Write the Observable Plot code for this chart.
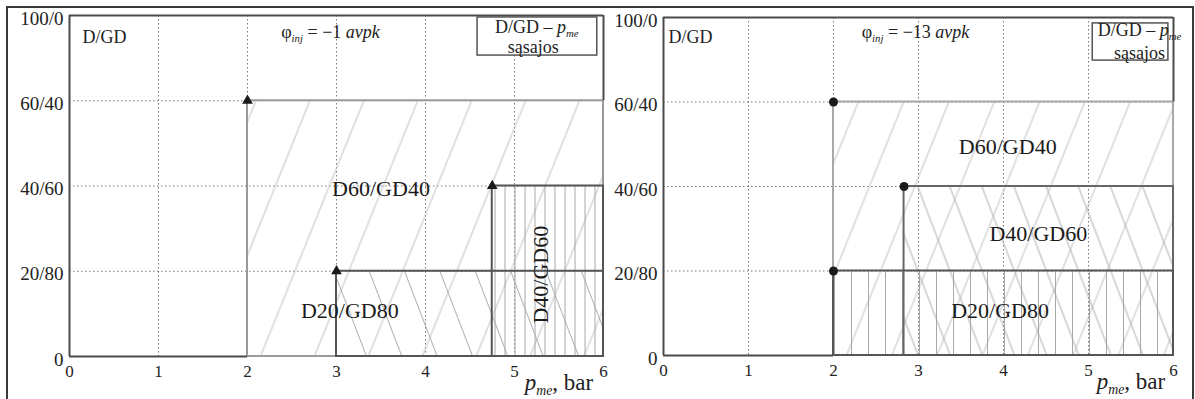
<!DOCTYPE html>
<html><head><meta charset="utf-8">
<script src="https://cdn.jsdelivr.net/npm/d3@7"></script>
<script src="https://cdn.jsdelivr.net/npm/@observablehq/plot@0.6"></script>
<style>
body{margin:0;background:#fff;}
#wrap{position:relative;width:1195px;height:399px;display:flex;overflow:hidden;}
#wrap svg{display:block;flex:none;overflow:visible;}
#frame{position:absolute;left:6px;top:6px;width:1188px;height:430px;border:2px solid #3a3a3a;box-sizing:border-box;pointer-events:none;}
</style></head><body>
<div id="wrap"><div id="frame"></div></div>
<script>
// ---- shared axis data ----
const xTicks = [0, 1, 2, 3, 4, 5, 6];
const yLevels = [0, 1, 2, 3, 4];
const yLabels = ["0", "20/80", "40/60", "60/40", "100/0"];
const gridXs = [1, 2, 3, 4, 5];
const gridYs = [1, 2, 3];
const xTitle = "*p*_{me}, bar";

// ---- left panel (φinj = −1) ----
const leftTitle = "φ_{inj} = −1 *avpk*";
const leftNames = ["D60/GD40", "D20/GD80", "D40/GD60"];
const leftStart = [2, 3, 4.75];
const leftLevel = [3, 1, 2];
const leftHatch = ["slash", "back", "vert"];
const leftEdge = ["#9a9a9a", "#555", "#555"];
const leftLabelX = [3.5, 3.15, 5.3];
const leftLabelY = [1.97, 0.53, 0.96];
const leftLabelRot = [0, 0, -90];
const leftLegendBox = [4.585, 5.93, 3.53, 3.977];
const leftLegendX = [5.25, 5.21];
const leftLegendY = [3.86, 3.625];

// ---- right panel (φinj = −13) ----
const rightTitle = "φ_{inj} = −13 *avpk*";
const rightNames = ["D60/GD40", "D40/GD60", "D20/GD80"];
const rightStart = [2, 2.83, 2];
const rightLevel = [3, 2, 1];
const rightHatch = ["slash", "back", "vert"];
const rightEdge = ["#a8a8a8", "#666", "#555"];
const rightLegendBox = [5.05, 5.94, 3.49, 3.93];
const rightLabelX = [4.05, 4.41, 3.96];
const rightLabelY = [2.47, 1.44, 0.53];
const rightLabelRot = [0, 0, 0];
const rightLegendX = [5.6, 5.6];
const rightLegendY = [3.845, 3.58];

const legendLines = ["D/GD – *p*_{me}", "sąsajos"];
const FONT = "'Liberation Serif','DejaVu Serif',serif";

function richify(svg) {
  svg.querySelectorAll("text").forEach(t => {
    const s = t.textContent;
    if (!/\*|_\{/.test(s)) return;
    const holder = t.closest("[font-size]");
    const fs = holder ? parseFloat(holder.getAttribute("font-size")) : 17;
    const parts = s.split(/(\*[^*]+\*|_\{[^}]+\})/).filter(Boolean);
    t.textContent = "";
    let sub = false;
    for (const p of parts) {
      const ts = document.createElementNS("http://www.w3.org/2000/svg", "tspan");
      if (p.startsWith("*")) {
        ts.textContent = p.slice(1, -1);
        ts.setAttribute("font-style", "italic");
        if (sub) { ts.setAttribute("dy", -fs * 0.2); sub = false; }
      } else if (p.startsWith("_{")) {
        ts.textContent = p.slice(2, -1);
        ts.setAttribute("font-style", "italic");
        ts.setAttribute("font-size", fs * 0.6);
        ts.setAttribute("dy", fs * 0.2);
        sub = true;
      } else {
        ts.textContent = p;
        if (sub) { ts.setAttribute("dy", -fs * 0.2); sub = false; }
      }
      t.appendChild(ts);
    }
  });
}

function panel(cfg) {
  const regions = cfg.names.map((n, i) => ({
    name: n, x1: cfg.start[i], x2: 6, y1: 0, y2: cfg.level[i],
    hatch: cfg.hatch[i], edge: cfg.edge[i],
    lx: cfg.lx[i], ly: cfg.ly[i], rot: cfg.rot[i]
  }));
  const minStart = d3.min(cfg.start);
  const maxLevel = d3.max(cfg.level);
  const fills = regions.map(r => Plot.rect([r], {x1: "x1", x2: "x2", y1: "y1", y2: "y2", fill: `url(#${cfg.id}-${r.hatch})`}));
  const edges = regions.map(r => Plot.rect([r], {x1: "x1", x2: "x2", y1: "y1", y2: "y2", fill: "none", stroke: r.edge, strokeWidth: 2}));
  const legend = legendLines.map((l, i) => ({t: l, x: cfg.legX[i], y: cfg.legY[i]}));
  const box = [{x1: cfg.legBox[0], x2: cfg.legBox[1], y1: cfg.legBox[2], y2: cfg.legBox[3]}];
  const svg = Plot.plot({
    width: cfg.width, height: 399,
    marginLeft: cfg.ml, marginRight: cfg.mr, marginTop: cfg.mt, marginBottom: cfg.mb,
    x: {domain: [0, 6]},
    y: {domain: [0, 4]},
    style: {fontFamily: FONT, fontSize: "17px", color: "#222", background: "transparent", overflow: "visible"},
    marks: [
      Plot.gridX(gridXs, {stroke: "#777", strokeOpacity: 1, strokeDasharray: "1.5,2.5"}),
      Plot.gridY(gridYs, {stroke: "#777", strokeOpacity: 1, strokeDasharray: "1.5,2.5"}),
      ...fills,
      ...edges,
      Plot.ruleX([0], {stroke: "#4a4a4a", strokeWidth: 2}),
      Plot.ruleY([4], {stroke: "#4a4a4a", strokeWidth: 2}),
      Plot.ruleY([0], {x1: 0, x2: minStart, stroke: "#4a4a4a", strokeWidth: 2}),
      Plot.ruleX([6], {y1: maxLevel, y2: 4, stroke: "#4a4a4a", strokeWidth: 2}),
      Plot.dot(regions, {x: "x1", y: "y2", symbol: cfg.symbol, r: cfg.r, fill: "#1a1a1a", stroke: "none"}),
      Plot.axisY(yLevels, {tickFormat: d => yLabels[d], tickSize: 0, tickPadding: 6, fontSize: 19, label: null, dy: 3}),
      Plot.axisX(xTicks, {tickSize: 0, tickPadding: 8, fontSize: 17, label: null}),
      Plot.text(regions, {x: "lx", y: "ly", text: "name", rotate: "rot", fontSize: 22, fill: "#1a1a1a"}),
      Plot.text(["D/GD"], {frameAnchor: "top-left", dx: cfg.dgdx, dy: cfg.dgdy, lineAnchor: "top", textAnchor: "start", fontSize: 18}),
      Plot.text([cfg.title], {frameAnchor: "top", dx: cfg.tdx, dy: cfg.tdy, lineAnchor: "top", fontSize: 18}),
      Plot.rect(box, {x1: "x1", x2: "x2", y1: "y1", y2: "y2", fill: "white", stroke: "#555", strokeWidth: 1.5}),
      Plot.text(legend, {x: "x", y: "y", text: "t", fontSize: 18}),
      Plot.text([xTitle], {x: 5.5, y: -0.31, fontSize: 23})
    ]
  });
  const sp = cfg.spacing;
  const defs = `<defs>
    <pattern id="${cfg.id}-slash" patternUnits="userSpaceOnUse" width="${sp.slash}" height="20" patternTransform="rotate(22)"><line x1="${sp.slash/2}" y1="-2" x2="${sp.slash/2}" y2="22" stroke="#c2c2c2" stroke-width="1"/></pattern>
    <pattern id="${cfg.id}-back" patternUnits="userSpaceOnUse" width="${sp.back}" height="20" patternTransform="rotate(-21)"><line x1="${sp.back/2}" y1="-2" x2="${sp.back/2}" y2="22" stroke="#b0b0b0" stroke-width="1"/></pattern>
    <pattern id="${cfg.id}-vert" patternUnits="userSpaceOnUse" width="${sp.vert}" height="20"><line x1="${sp.vert/2}" y1="-2" x2="${sp.vert/2}" y2="22" stroke="#a8a8a8" stroke-width="1"/></pattern>
  </defs>`;
  svg.insertAdjacentHTML("afterbegin", defs);
  richify(svg);
  return svg;
}

const wrap = document.getElementById("wrap");
const frame = document.getElementById("frame");
wrap.insertBefore(panel({
  id: "L", width: 605, ml: 69, mr: 2, mt: 15, mb: 43,
  names: leftNames, start: leftStart, level: leftLevel, hatch: leftHatch, edge: leftEdge,
  lx: leftLabelX, ly: leftLabelY, rot: leftLabelRot,
  symbol: "triangle", r: 4, title: leftTitle, tdx: -6, tdy: 10, dgdx: 13, dgdy: 15,
  legBox: leftLegendBox, legX: leftLegendX, legY: leftLegendY,
  spacing: {slash: 50, back: 33, vert: 10}
}), frame);
wrap.insertBefore(panel({
  id: "R", width: 590, ml: 58, mr: 22, mt: 17, mb: 44,
  names: rightNames, start: rightStart, level: rightLevel, hatch: rightHatch, edge: rightEdge,
  lx: rightLabelX, ly: rightLabelY, rot: rightLabelRot,
  symbol: "circle", r: 4.5, title: rightTitle, tdx: -3, tdy: 8, dgdx: 5, dgdy: 13,
  legBox: rightLegendBox, legX: rightLegendX, legY: rightLegendY,
  spacing: {slash: 42, back: 30, vert: 17}
}), frame);
</script>
</body></html>
